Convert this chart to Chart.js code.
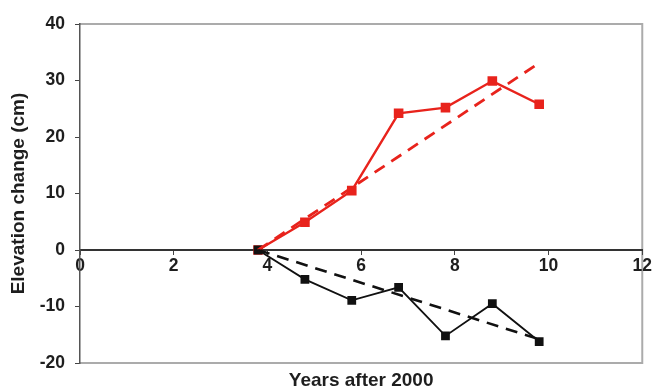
<!DOCTYPE html>
<html>
<head>
<meta charset="utf-8">
<script src="https://cdn.jsdelivr.net/npm/chart.js@4/dist/chart.umd.min.js"></script>
<style>
  html, body { margin: 0; padding: 0; background: #fff; }
  #c { display: block; }
</style>
</head>
<body>
<canvas id="c" width="654" height="390"></canvas>
<script>
// Elevation change measured each year, starting in year 3.8 after 2000
const years = [3.8, 4.8, 5.8, 6.8, 7.8, 8.8, 9.8];
const redSeries = [0, 4.9, 10.5, 24.2, 25.2, 29.9, 25.8];
const blackSeries = [0, -5.2, -8.9, -6.6, -15.2, -9.5, -16.2];

// Linear trend lines (start and end of fitted line)
const trendYears = [3.8, 9.8];
const redTrend = [0, 33.1];
const blackTrend = [0, -15.8];

// Axis ticks
const xTicks = [0, 2, 4, 6, 8, 10, 12];
const yTicks = [-20, -10, 0, 10, 20, 30, 40];

const RED = '#e8231c';
const BLACK = '#111111';
const FONT = '"Liberation Sans", Arial, Helvetica, sans-serif';
const TEXT = '#1e1e1e';

const pairs = (xs, ys) => xs.map((x, i) => ({ x: x, y: ys[i] }));

// Light frame on the top, right and bottom of the plot area
const framePlugin = {
  id: 'plotFrame',
  beforeDraw(chart) {
    const { ctx, chartArea: a } = chart;
    ctx.save();
    ctx.fillStyle = '#ffffff';
    ctx.fillRect(0, 0, chart.width, chart.height);
    ctx.strokeStyle = '#ababab';
    ctx.lineWidth = 2;
    ctx.beginPath();
    ctx.moveTo(a.left, a.top);
    ctx.lineTo(a.right, a.top);
    ctx.lineTo(a.right, a.bottom);
    ctx.lineTo(a.left, a.bottom);
    ctx.stroke();
    ctx.restore();
  }
};

new Chart(document.getElementById('c'), {
  type: 'scatter',
  data: {
    datasets: [
      {
        label: 'Black trend',
        data: pairs(trendYears, blackTrend),
        showLine: true,
        borderColor: BLACK,
        borderWidth: 2.6,
        borderDash: [12, 8],
        pointRadius: 0
      },
      {
        label: 'Red trend',
        data: pairs(trendYears, redTrend),
        showLine: true,
        borderColor: RED,
        borderWidth: 2.8,
        borderDash: [12, 8],
        pointRadius: 0
      },
      {
        label: 'Black',
        data: pairs(years, blackSeries),
        showLine: true,
        borderColor: BLACK,
        borderWidth: 1.8,
        pointStyle: 'rect',
        pointRadius: 6.2,
        pointBackgroundColor: BLACK,
        pointBorderWidth: 0
      },
      {
        label: 'Red',
        data: pairs(years, redSeries),
        showLine: true,
        borderColor: RED,
        borderWidth: 2.4,
        pointStyle: 'rect',
        pointRadius: 6.8,
        pointBackgroundColor: RED,
        pointBorderWidth: 0
      }
    ]
  },
  options: {
    responsive: false,
    animation: false,
    devicePixelRatio: 1,
    layout: { padding: { top: 24, right: 10, bottom: 0, left: 0 } },
    plugins: {
      legend: { display: false },
      tooltip: { enabled: false },
      title: {
        display: true,
        position: 'bottom',
        fullSize: false,
        text: 'Years after 2000',
        color: TEXT,
        font: { family: FONT, size: 19, weight: 'bold', lineHeight: 1 },
        padding: { top: 8, bottom: 0 }
      }
    },
    scales: {
      x: {
        type: 'linear',
        position: { y: 0 },
        min: 0,
        max: 12,
        afterBuildTicks: s => { s.ticks = xTicks.map(v => ({ value: v })); },
        afterFit: s => { s.height = 0; },
        ticks: {
          color: TEXT,
          padding: 2,
          maxRotation: 0,
          autoSkip: false,
          font: { family: FONT, size: 17.5, weight: 'bold' }
        },
        grid: { drawOnChartArea: false, drawTicks: true, tickLength: 4, color: '#444', lineWidth: 1 },
        border: { display: true, color: '#333', width: 2 }
      },
      y: {
        type: 'linear',
        position: 'left',
        min: -20,
        max: 40,
        afterBuildTicks: s => { s.ticks = yTicks.map(v => ({ value: v })); },
        afterFit: s => { s.width = 80; },
        ticks: {
          color: TEXT,
          padding: 10,
          font: { family: FONT, size: 17.5, weight: 'bold' }
        },
        grid: { drawOnChartArea: false, drawTicks: true, tickLength: 5, color: '#444', lineWidth: 1 },
        border: { display: true, color: '#555', width: 1.5 },
        title: {
          display: true,
          text: 'Elevation change (cm)',
          color: TEXT,
          font: { family: FONT, size: 19, weight: 'bold' },
          padding: { top: 7, bottom: 0 }
        }
      }
    }
  },
  plugins: [framePlugin]
});
</script>
</body>
</html>
